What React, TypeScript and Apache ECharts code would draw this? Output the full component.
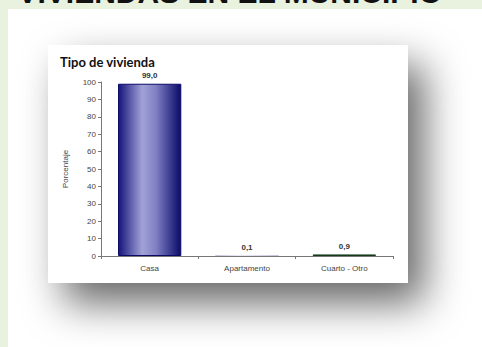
import React, { useEffect, useRef } from "react";
import * as echarts from "echarts";

const categories = ["Casa", "Apartamento", "Cuarto - Otro"];
const values = [99.0, 0.1, 0.9];
const yTicks = { min: 0, max: 100, interval: 10 };
const chartTitle = "Tipo de vivienda";
const yAxisName = "Porcentaje";
const headerText = "VIVIENDAS EN EL MUNICIPIO";

export default function App() {
  const ref = useRef<HTMLDivElement>(null);
  useEffect(() => {
    document.body.style.margin = "0";
    const chart = echarts.init(ref.current!, null, { renderer: "svg" });
    const navyGrad = new echarts.graphic.LinearGradient(0, 0, 1, 0, [
      { offset: 0, color: "#15157c" },
      { offset: 0.38, color: "#a2a2d8" },
      { offset: 0.6, color: "#8080c4" },
      { offset: 1, color: "#0a0a6a" },
    ]);
    const greenGrad = new echarts.graphic.LinearGradient(0, 0, 1, 0, [
      { offset: 0, color: "#1e4a28" },
      { offset: 0.4, color: "#3a6a40" },
      { offset: 1, color: "#143a1c" },
    ]);
    const fills = [navyGrad, navyGrad, greenGrad];
    const borders = ["#0a0a66", "transparent", "#163a1c"];
    const borderWidths = [1, 0, 1];
    chart.setOption({
      animation: false,
      backgroundColor: "#ffffff",
      graphic: [
        { type: "rect", z: -20, shape: { x: 0, y: 0, width: 482, height: 347 }, style: { fill: "#e9f1df" }, silent: true },
        { type: "rect", z: -19, shape: { x: 8, y: 9, width: 474, height: 338 }, style: { fill: "#ffffff" }, silent: true },
        {
          type: "text", z: -18, x: 442, y: 7,
          style: { text: headerText, fill: "#111111", font: "bold 30px 'Liberation Sans', Arial, sans-serif", align: "right", verticalAlign: "bottom" },
          silent: true,
        },
        {
          type: "rect", z: -17,
          shape: { x: 48, y: 45, width: 360, height: 238 },
          style: { fill: "#ffffff", shadowBlur: 40, shadowOffsetX: 16, shadowOffsetY: 20, shadowColor: "rgba(0,0,0,0.6)" },
          silent: true,
        },
      ],
      title: {
        text: chartTitle,
        left: 55, top: 50,
        textStyle: { fontFamily: "Lato, 'Liberation Sans', sans-serif", fontWeight: "bold", fontSize: 13, color: "#111" },
      },
      grid: { left: 101, top: 82, width: 292, height: 174, containLabel: false },
      xAxis: {
        type: "category",
        data: categories,
        axisLine: { lineStyle: { color: "#777", width: 1 } },
        axisTick: { show: true, length: 3, lineStyle: { color: "#777" } },
        axisLabel: { fontSize: 8, color: "#444", fontFamily: "'Liberation Sans', Arial, sans-serif", margin: 8 },
      },
      yAxis: {
        type: "value",
        min: yTicks.min, max: yTicks.max, interval: yTicks.interval,
        name: yAxisName,
        nameLocation: "middle",
        nameRotate: 90,
        nameGap: 32,
        nameTextStyle: { fontSize: 8, color: "#444", fontFamily: "'Liberation Sans', Arial, sans-serif" },
        axisLine: { show: true, lineStyle: { color: "#777", width: 1 } },
        axisTick: { show: true, length: 3, lineStyle: { color: "#777" } },
        axisLabel: { fontSize: 8, color: "#444", fontFamily: "'Liberation Sans', Arial, sans-serif", margin: 5 },
        splitLine: { show: false },
      },
      series: [
        {
          type: "bar",
          barWidth: "65%",
          data: values.map((v, i) => ({
            value: v,
            itemStyle: { color: fills[i], borderColor: borders[i], borderWidth: borderWidths[i] },
          })),
          label: {
            show: true,
            position: "top",
            distance: 4,
            fontSize: 8,
            fontWeight: "bold",
            color: "#333",
            fontFamily: "'Liberation Sans', Arial, sans-serif",
            formatter: (p: any) => Number(p.value).toFixed(1).replace(".", ","),
          },
        },
      ],
    });
    return () => chart.dispose();
  }, []);
  return <div ref={ref} style={{ width: 482, height: 347 }} />;
}
